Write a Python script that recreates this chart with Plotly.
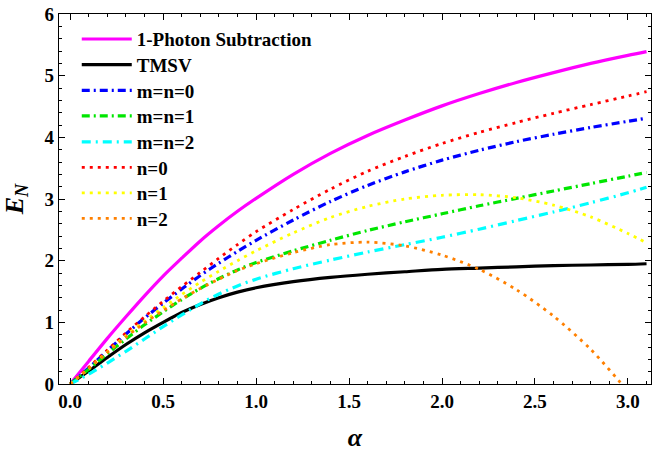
import plotly.graph_objects as go

alpha = [0, 0.1, 0.2, 0.3, 0.4, 0.5, 0.6, 0.7, 0.8, 0.9, 1.0, 1.2, 1.4, 1.6, 1.8, 2.0, 2.2, 2.4, 2.6, 2.8, 3.0, 3.1]

photon_sub = [0, 0.37, 0.74, 1.09, 1.43, 1.75, 2.04, 2.32, 2.57, 2.80, 3.01, 3.40, 3.74, 4.03, 4.28, 4.51, 4.71, 4.89, 5.05, 5.20, 5.33, 5.39]
tmsv = [0, 0.21, 0.43, 0.64, 0.83, 1.00, 1.16, 1.29, 1.40, 1.49, 1.56, 1.66, 1.73, 1.78, 1.82, 1.86, 1.88, 1.90, 1.92, 1.93, 1.94, 1.95]
mn0 = [0, 0.26, 0.54, 0.81, 1.07, 1.31, 1.54, 1.76, 1.96, 2.15, 2.33, 2.66, 2.96, 3.22, 3.44, 3.63, 3.79, 3.93, 4.05, 4.16, 4.26, 4.31]
mn1 = [0, 0.24, 0.49, 0.73, 0.96, 1.17, 1.37, 1.55, 1.71, 1.85, 1.97, 2.16, 2.33, 2.49, 2.63, 2.76, 2.89, 3.01, 3.13, 3.25, 3.37, 3.43]
mn2 = [0, 0.16, 0.34, 0.53, 0.73, 0.93, 1.12, 1.30, 1.46, 1.59, 1.70, 1.87, 2.01, 2.14, 2.26, 2.38, 2.51, 2.65, 2.79, 2.94, 3.10, 3.19]
n0 = [0, 0.27, 0.55, 0.83, 1.09, 1.34, 1.58, 1.81, 2.04, 2.26, 2.47, 2.83, 3.16, 3.45, 3.69, 3.90, 4.08, 4.24, 4.39, 4.53, 4.67, 4.74]
n1 = [0, 0.25, 0.52, 0.78, 1.02, 1.24, 1.45, 1.65, 1.83, 2.00, 2.16, 2.45, 2.70, 2.88, 3.00, 3.06, 3.07, 3.02, 2.90, 2.71, 2.44, 2.29]
n2 = [0, 0.25, 0.51, 0.76, 0.99, 1.19, 1.38, 1.55, 1.70, 1.84, 1.95, 2.13, 2.26, 2.30, 2.24, 2.09, 1.86, 1.53, 1.10, 0.56, -0.12, -0.50]

series = [
    ("1-Photon Subtraction", photon_sub, "#FF00FF", "solid", 3.2),
    ("TMSV", tmsv, "#000000", "solid", 3.2),
    ("m=n=0", mn0, "#0000FF", "8px,4px,2px,4px", 3.2),
    ("m=n=1", mn1, "#00E600", "8px,4px,2px,4px", 3.2),
    ("m=n=2", mn2, "#00FFFF", "9px,5px,2px,5px", 3.2),
    ("n=0", n0, "#FF0000", "3px,5px", 2.8),
    ("n=1", n1, "#FFFF00", "3px,5px", 2.8),
    ("n=2", n2, "#FF8000", "3px,5px", 2.8),
]

# legend row positions (paper fraction of the plot height, top to bottom)
legend_rows = [0.932, 0.863, 0.793, 0.724, 0.654, 0.585, 0.516, 0.447]

fig = go.Figure()
legend_layout = {}
for i, (name, ys, color, dash, w) in enumerate(series):
    key = "legend" if i == 0 else f"legend{i + 1}"
    fig.add_trace(go.Scatter(
        x=alpha, y=ys, mode="lines", name=name, legend=key,
        line=dict(color=color, dash=dash, width=w, shape="spline", smoothing=0.8),
    ))
    legend_layout[key] = dict(
        x=0.03, y=legend_rows[i], xanchor="left", yanchor="middle",
        font=dict(family="Liberation Serif", size=19, color="black", weight="bold"),
        bgcolor="rgba(255,255,255,0)", itemwidth=50,
    )

tickfont = dict(family="Liberation Serif", size=19, color="black", weight="bold")
axis_common = dict(
    showline=True, linecolor="black", linewidth=1.3, mirror="allticks",
    ticks="inside", ticklen=6, tickwidth=1.2, tickcolor="black",
    showgrid=False, zeroline=False, tickfont=tickfont, automargin=False,
)

fig.update_xaxes(
    range=[-0.06, 3.124], tick0=0, dtick=0.5, tickformat=".1f",
    minor=dict(ticks="inside", dtick=0.1, ticklen=3, tickwidth=1, tickcolor="black"),
    title=dict(text="<i>α</i>", font=dict(family="Liberation Serif", size=26, color="black", weight="bold"), standoff=17),
    **axis_common,
)
fig.update_yaxes(
    range=[0, 6], tick0=0, dtick=1,
    minor=dict(ticks="inside", dtick=0.2, ticklen=3, tickwidth=1, tickcolor="black"),
    title=dict(text="<i>E</i><sub><i>N</i></sub>", font=dict(family="Liberation Serif", size=26, color="black", weight="bold"), standoff=14),
    **axis_common,
)

fig.update_layout(
    width=657, height=452,
    margin=dict(l=59, r=6, t=14, b=68),
    plot_bgcolor="white", paper_bgcolor="white",
    showlegend=True,
    **legend_layout,
)

fig.write_html(
    "out.html",
    config={"displayModeBar": False},
    post_script="document.body.style.margin='0';document.body.style.overflow='hidden';",
)
